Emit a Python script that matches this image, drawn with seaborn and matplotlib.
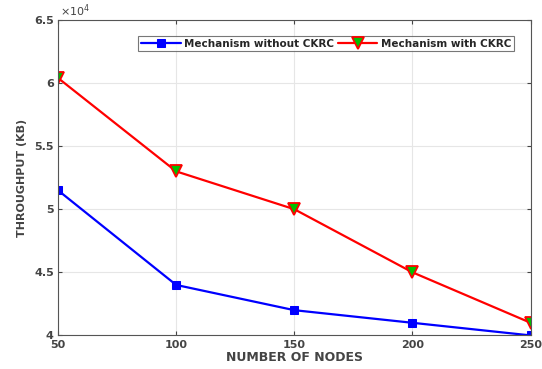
import matplotlib
matplotlib.use("Agg")
import matplotlib.pyplot as plt
import seaborn as sns
import pandas as pd

nodes = [50, 100, 150, 200, 250]
without_ckrc = [51500, 44000, 42000, 41000, 40000]
with_ckrc = [60400, 53000, 50000, 45000, 41000]
labels = ["Mechanism without CKRC", "Mechanism with CKRC"]

sns.set_style("whitegrid")
plt.rcParams['font.family'] = ['DejaVu Sans']

fig = plt.figure(figsize=(5.42, 3.69), dpi=100)
ax = fig.add_axes([0.107, 0.091, 0.872, 0.855])

df1 = pd.DataFrame({"x": nodes, "y": without_ckrc})
df2 = pd.DataFrame({"x": nodes, "y": with_ckrc})
sns.lineplot(data=df1, x="x", y="y", ax=ax, color="#0000ff", marker="s", markersize=6,
             markerfacecolor="#0000ff", markeredgecolor="#0000ff", linewidth=1.6, label=labels[0])
sns.lineplot(data=df2, x="x", y="y", ax=ax, color="#ff0000", marker="v", markersize=8,
             markerfacecolor="#00c000", markeredgecolor="#ff0000", markeredgewidth=1.3,
             linewidth=1.6, label=labels[1])

ax.set_xlim(50, 250)
ax.set_ylim(40000, 65000)
ax.set_xticks(nodes)
yt = [40000, 45000, 50000, 55000, 60000, 65000]
ax.set_yticks(yt)
ax.set_yticklabels(["4", "4.5", "5", "5.5", "6", "6.5"])
ax.text(0.005, 1.003, r"$\times10^4$", transform=ax.transAxes, fontsize=8, color="#444444",
        ha="left", va="bottom")
ax.grid(True, color="#e6e6e6", linewidth=0.8)
for s in ax.spines.values():
    s.set_visible(True)
    s.set_color("#555555")
    s.set_linewidth(0.8)
ax.tick_params(axis="both", labelsize=8, colors="#444444", direction="in", length=3,
               top=True, right=True, bottom=True, left=True, pad=3)
for lab in ax.get_xticklabels() + ax.get_yticklabels():
    lab.set_fontweight("bold")
ax.set_xlabel("NUMBER OF NODES", fontsize=9, fontweight="bold", color="#444444", labelpad=1)
ax.set_ylabel("THROUGHPUT (KB)", fontsize=8, fontweight="bold", color="#444444", labelpad=5)

leg = ax.legend(loc="upper right", ncol=2, prop={"weight": "bold", "size": 7.5},
                frameon=True, fancybox=False, edgecolor="#555555", handlelength=3.8,
                columnspacing=0.4, handletextpad=0.3, borderpad=0.25,
                bbox_to_anchor=(0.975, 0.965))
leg.get_frame().set_linewidth(0.8)

fig.savefig("out.png", dpi=100)
